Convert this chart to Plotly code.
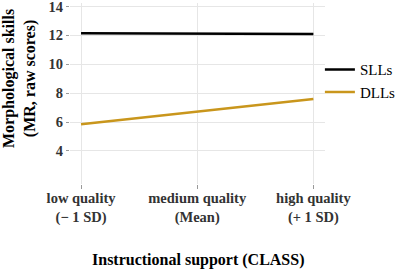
import plotly.graph_objects as go

categories = ["low quality<br>(− 1 SD)", "medium quality<br>(Mean)", "high quality<br>(+ 1 SD)"]
sll_values = [12.15, 12.12, 12.1]
dll_values = [5.85, 6.72, 7.6]
y_ticks = [4, 6, 8, 10, 12, 14]

FONT = "Liberation Serif"

fig = go.Figure()
fig.add_trace(go.Scatter(x=[0, 1, 2], y=sll_values, mode="lines", name="SLLs",
                         line=dict(color="#000000", width=2.5)))
fig.add_trace(go.Scatter(x=[0, 1, 2], y=dll_values, mode="lines", name="DLLs",
                         line=dict(color="#C9961C", width=2.5)))

fig.update_layout(
    width=400, height=272,
    margin=dict(l=70, r=75, t=3, b=88, autoexpand=False),
    plot_bgcolor="white", paper_bgcolor="white",
    font=dict(family=FONT, color="#000000"),
    legend=dict(x=0.98, y=0.722, xanchor="left", yanchor="top",
                font=dict(family=FONT, size=15, color="#000000"),
                bgcolor="rgba(0,0,0,0)"),
    xaxis=dict(
        range=[-0.095, 2.10],
        tickvals=[0, 1, 2], ticktext=categories,
        tickfont=dict(family=FONT, size=14.5, color="#333333", weight="bold"),
        showgrid=True, gridcolor="#e6e6e6", gridwidth=1,
        zeroline=False, showline=False, automargin=False,
        ticks="outside", ticklen=4, tickcolor="#999999", tickwidth=1,
        ticklabeloverflow="allow", ticklabelstandoff=-3,
    ),
    yaxis=dict(
        range=[1.71, 14.24],
        tickvals=y_ticks,
        tickfont=dict(family=FONT, size=14.5, color="#333333", weight="bold"),
        showgrid=True, gridcolor="#e6e6e6", gridwidth=1,
        zeroline=False, showline=False, automargin=False,
        ticks="outside", ticklen=3, tickcolor="#999999", tickwidth=1,
        ticklabeloverflow="allow",
    ),
    annotations=[
        dict(text="<b>Instructional support (CLASS)</b>", xref="paper", yref="paper",
             x=0.5, y=0, yshift=-76, xanchor="center", yanchor="middle",
             showarrow=False, font=dict(family=FONT, size=16, color="#000000")),
        dict(text="<b>Morphological skills<br>(MR, raw scores)</b>", xref="paper", yref="paper",
             x=(19 - 70) / 255, y=1 - (79 - 3) / 181, xanchor="center", yanchor="middle",
             textangle=-90, showarrow=False,
             font=dict(family=FONT, size=16, color="#000000")),
    ],
)

fig.write_html("out.html", config={"displayModeBar": False},
               post_script="document.body.style.margin='0';document.body.style.overflow='hidden';")
